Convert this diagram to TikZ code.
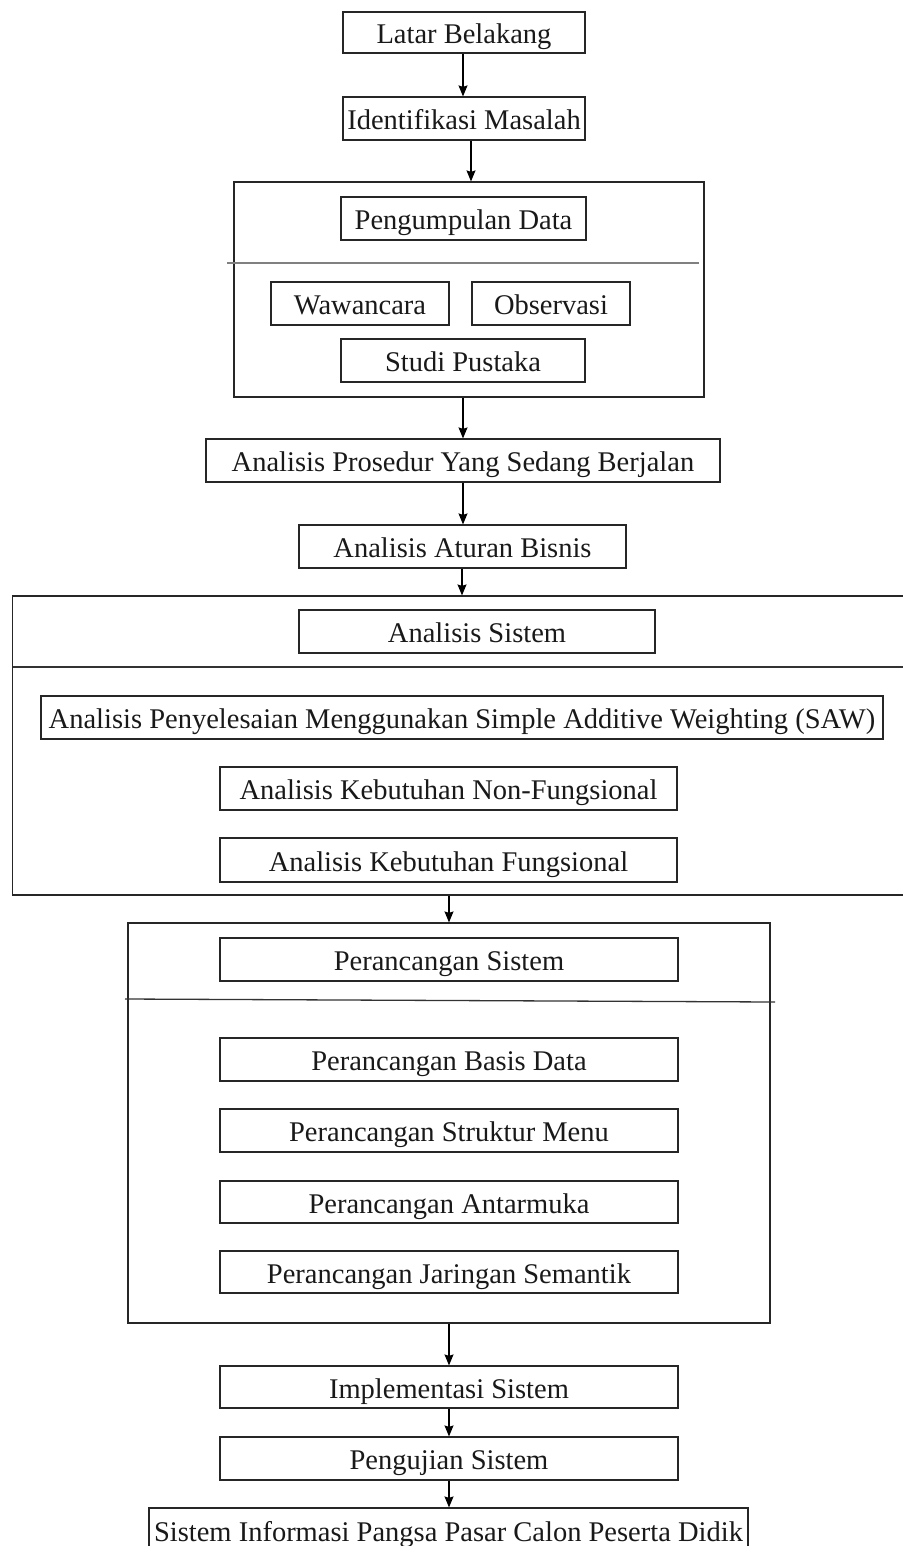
\documentclass[tikz,border=0pt]{standalone}
\usepackage{fontspec}
\setmainfont{Liberation Serif}
\usetikzlibrary{arrows.meta}
\begin{document}
\begin{tikzpicture}[x=1pt,y=-1pt,
  box/.style={draw=black!85, line width=1.2pt, rectangle, inner sep=0pt,
    text height=22pt, text depth=0pt,
    font=\fontsize{28.5}{32}\selectfont, text=black!90},
  frame/.style={draw=black!85, line width=1.2pt, rectangle, inner sep=0pt},
  arr/.style={draw=black, line width=1.2pt, -{Stealth[length=11pt,width=9pt,inset=1.5pt]}},
  sepgray/.style={draw=black!50, line width=1.6pt},
  sepdark/.style={draw=black!80, line width=1.3pt}]
\useasboundingbox (0,0) rectangle (902,1546);
\fill[white] (0,0) rectangle (902,1546);

% top chain
\node[box, minimum width=242pt, minimum height=41pt] (latar) at (464,32.5) {Latar Belakang};
\node[box, minimum width=242pt, minimum height=43pt] (ident) at (464,118.5) {Identifikasi Masalah};

% Pengumpulan data group
\node[frame, minimum width=470pt, minimum height=215pt] (pgouter) at (469,289.5) {};
\node[box, minimum width=245pt, minimum height=43pt] (pgdata) at (463.5,218.5) {Pengumpulan Data};
\coordinate (s1a) at (227,263);
\coordinate (s1b) at (699,263);
\draw[sepgray] (s1a) -- (s1b);
\node[box, minimum width=178pt, minimum height=43pt] (waw) at (360,303.5) {Wawancara};
\node[box, minimum width=158pt, minimum height=43pt] (obs) at (551,303.5) {Observasi};
\node[box, minimum width=244pt, minimum height=43pt] (studi) at (463,360.5) {Studi Pustaka};

\node[box, minimum width=514pt, minimum height=43pt] (prosedur) at (463,460.5) {Analisis Prosedur Yang Sedang Berjalan};
\node[box, minimum width=327pt, minimum height=43pt] (aturan) at (462.5,546.5) {Analisis Aturan Bisnis};

% Analisis Sistem group (right side runs off the page)
\node[frame, minimum width=896pt, minimum height=299pt] (asouter) at (460.7,745.5) {};
\node[box, minimum width=356pt, minimum height=43pt] (assis) at (477,631.5) {Analisis Sistem};
\coordinate (s2a) at (12.7,667);
\coordinate (s2b) at (910,667);
\draw[sepdark] (s2a) -- (s2b);
\node[box, minimum width=842pt, minimum height=43pt] (saw) at (462,717.5) {Analisis Penyelesaian Menggunakan Simple Additive Weighting (SAW)};
\node[box, minimum width=457pt, minimum height=43pt] (nonf) at (448.5,788.5) {Analisis Kebutuhan Non-Fungsional};
\node[box, minimum width=457pt, minimum height=44pt] (fung) at (448.5,860) {Analisis Kebutuhan Fungsional};

% Perancangan group
\node[frame, minimum width=642pt, minimum height=400pt] (prouter) at (449,1123) {};
\node[box, minimum width=458pt, minimum height=43pt] (prsis) at (449,959.5) {Perancangan Sistem};
\coordinate (s3a) at (125,999);
\coordinate (s3b) at (775,1002);
\draw[sepdark] (s3a) -- (s3b);
\node[box, minimum width=458pt, minimum height=43pt] (basis) at (449,1059.5) {Perancangan Basis Data};
\node[box, minimum width=458pt, minimum height=43pt] (struktur) at (449,1130.5) {Perancangan Struktur Menu};
\node[box, minimum width=458pt, minimum height=42pt] (antar) at (449,1202) {Perancangan Antarmuka};
\node[box, minimum width=458pt, minimum height=42pt] (jaringan) at (449,1272) {Perancangan Jaringan Semantik};

\node[box, minimum width=458pt, minimum height=42pt] (impl) at (449,1387) {Implementasi Sistem};
\node[box, minimum width=458pt, minimum height=43pt] (uji) at (449,1458.5) {Pengujian Sistem};
\node[box, minimum width=599pt, minimum height=44pt] (final) at (448.5,1530) {Sistem Informasi Pangsa Pasar Calon Peserta Didik};

% connectors
\draw[arr] (463,0 |- latar.south) -- (463,0 |- ident.north);
\draw[arr] (471,0 |- ident.south) -- (471,0 |- pgouter.north);
\draw[arr] (463,0 |- pgouter.south) -- (463,0 |- prosedur.north);
\draw[arr] (463,0 |- prosedur.south) -- (463,0 |- aturan.north);
\draw[arr] (462,0 |- aturan.south) -- (462,0 |- asouter.north);
\draw[arr] (449,0 |- asouter.south) -- (449,0 |- prouter.north);
\draw[arr] (449,0 |- prouter.south) -- (449,0 |- impl.north);
\draw[arr] (449,0 |- impl.south) -- (449,0 |- uji.north);
\draw[arr] (449,0 |- uji.south) -- (449,0 |- final.north);
\end{tikzpicture}
\end{document}
